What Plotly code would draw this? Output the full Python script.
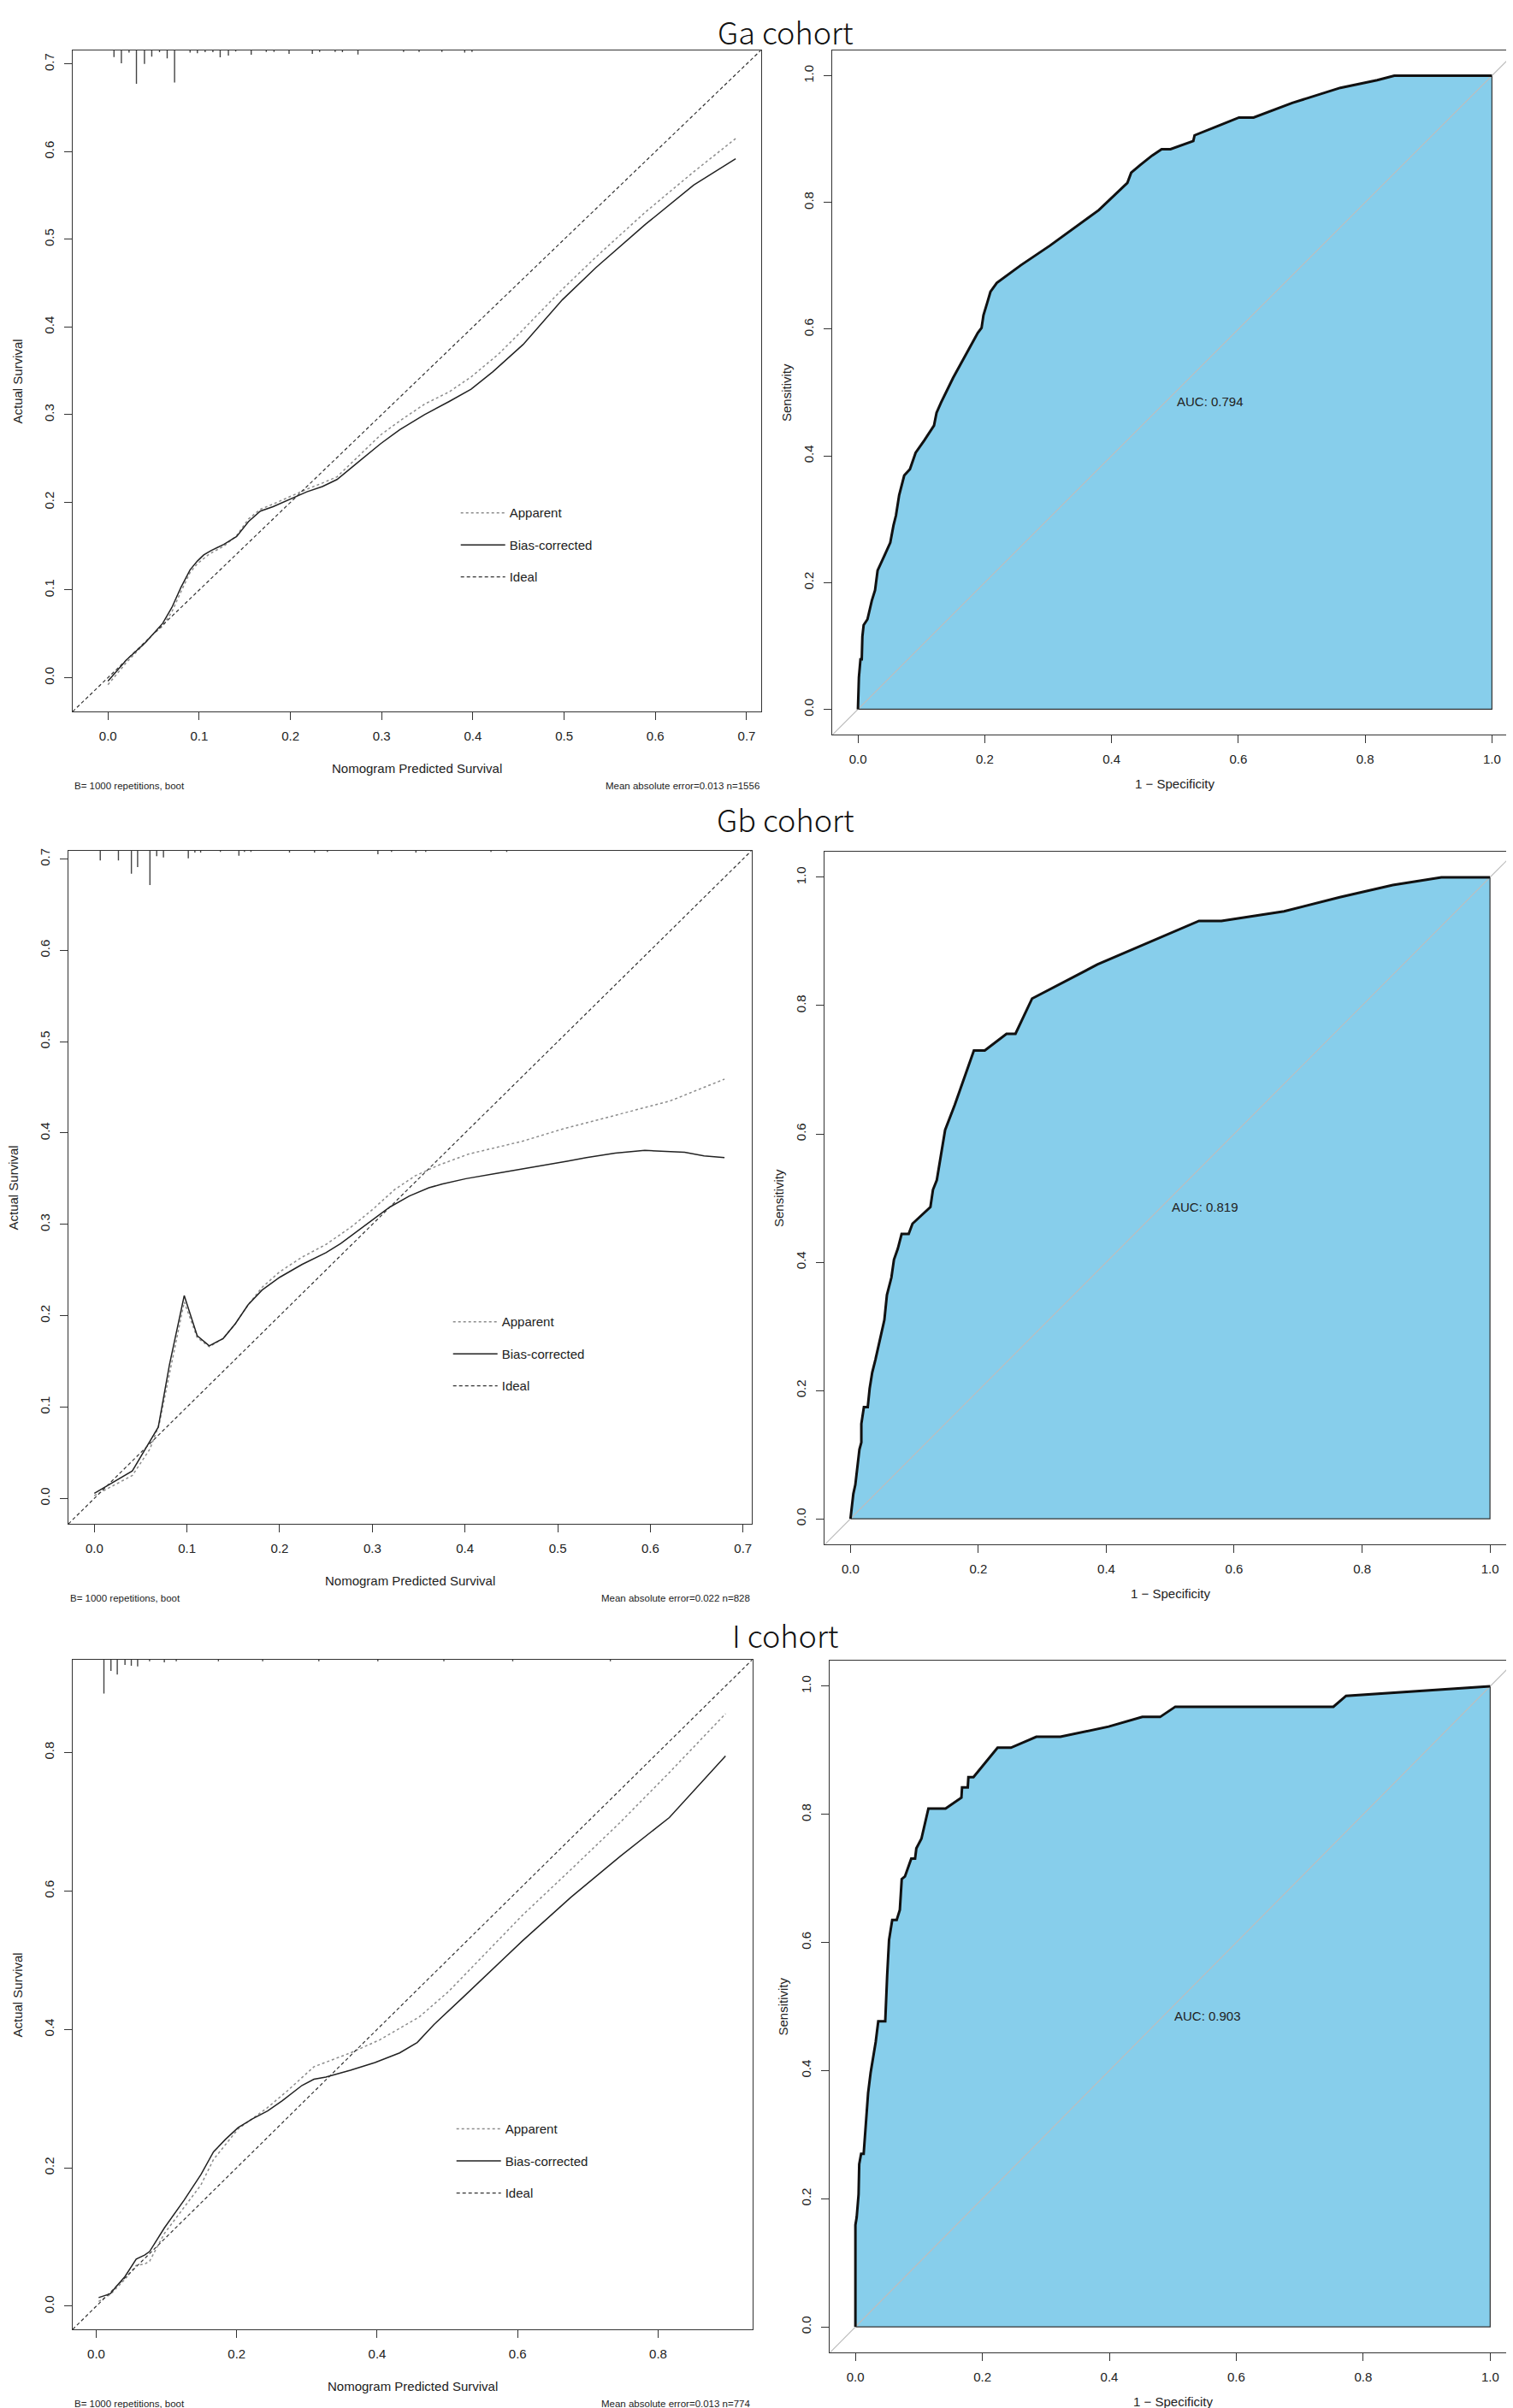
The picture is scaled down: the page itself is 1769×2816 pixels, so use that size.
import plotly.graph_objects as go

W, H = 1769, 2816
FONT = "Liberation Sans, Arial, sans-serif"
TITLE_FONT = "Noto Sans CJK SC, Noto Sans, sans-serif"

# ---------------- data ----------------
cohorts = ["Ga cohort", "Gb cohort", "I cohort"]
n_obs = [1556, 828, 774]
mae = [0.013, 0.022, 0.013]
auc_values = [0.794, 0.819, 0.903]
boot_B = 1000

# calibration ranges (xlim = ylim)
cal_lims = [[-0.0387, 0.7155], [-0.028, 0.709], [-0.0335, 0.934]]
cal_dticks = [0.1, 0.1, 0.2]
roc_lims = [-0.04, 1.04]

# Ga calibration
ga_bc_x = [0.0, 0.020, 0.041, 0.050, 0.060, 0.070, 0.080, 0.090, 0.098, 0.105, 0.113, 0.127, 0.141, 0.154,
           0.167, 0.181, 0.200, 0.218, 0.235, 0.251, 0.272, 0.299, 0.320, 0.347, 0.374, 0.398, 0.422, 0.455,
           0.498, 0.535, 0.589, 0.642, 0.688]
ga_bc_y = [-0.004, 0.020, 0.040, 0.050, 0.062, 0.080, 0.103, 0.123, 0.133, 0.140, 0.145, 0.152, 0.161, 0.178,
           0.190, 0.195, 0.204, 0.212, 0.218, 0.226, 0.244, 0.267, 0.283, 0.300, 0.315, 0.329, 0.349, 0.380,
           0.431, 0.468, 0.517, 0.562, 0.592]
ga_app_x = [0.0, 0.020, 0.041, 0.050, 0.060, 0.070, 0.080, 0.090, 0.098, 0.111, 0.127, 0.141, 0.154, 0.167,
            0.181, 0.200, 0.218, 0.235, 0.251, 0.272, 0.299, 0.320, 0.347, 0.374, 0.398, 0.428, 0.455, 0.498,
            0.535, 0.589, 0.642, 0.688]
ga_app_y = [-0.008, 0.017, 0.040, 0.050, 0.059, 0.075, 0.098, 0.120, 0.130, 0.141, 0.150, 0.162, 0.181, 0.192,
            0.198, 0.207, 0.215, 0.222, 0.229, 0.250, 0.277, 0.293, 0.312, 0.326, 0.343, 0.369, 0.397, 0.443,
            0.480, 0.531, 0.577, 0.615]
ga_rug_x = [0.0066, 0.0147, 0.0231, 0.0312, 0.040, 0.048, 0.0565, 0.0649, 0.073, 0.090, 0.098, 0.1065, 0.115,
            0.123, 0.132, 0.140, 0.157, 0.1735, 0.182, 0.1985, 0.224, 0.232, 0.249, 0.257, 0.274, 0.324, 0.341,
            0.366, 0.391, 0.399]
ga_rug_h = [0.0075, 0.0146, 0.0026, 0.0382, 0.0155, 0.0071, 0.0019, 0.009, 0.0366, 0.0026, 0.0032, 0.0019,
            0.0019, 0.0078, 0.0058, 0.0013, 0.0049, 0.0017, 0.0017, 0.0039, 0.0039, 0.0017, 0.0017, 0.0019,
            0.0046, 0.0017, 0.0017, 0.0017, 0.0026, 0.0017]

# Gb calibration
gb_bc_x = [0.0, 0.041, 0.069, 0.081, 0.097, 0.111, 0.124, 0.139, 0.152, 0.166, 0.181, 0.200, 0.224, 0.250,
           0.266, 0.300, 0.319, 0.340, 0.361, 0.375, 0.401, 0.435, 0.459, 0.483, 0.510, 0.531, 0.562, 0.594,
           0.610, 0.637, 0.658, 0.680]
gb_bc_y = [0.0055, 0.030, 0.078, 0.146, 0.222, 0.178, 0.167, 0.175, 0.191, 0.212, 0.228, 0.242, 0.256, 0.269,
           0.279, 0.305, 0.319, 0.331, 0.340, 0.344, 0.350, 0.356, 0.360, 0.364, 0.369, 0.373, 0.378, 0.381,
           0.380, 0.379, 0.375, 0.373]
gb_app_x = [0.0, 0.041, 0.060, 0.070, 0.081, 0.097, 0.111, 0.124, 0.139, 0.152, 0.166, 0.181, 0.200, 0.224,
            0.250, 0.277, 0.300, 0.324, 0.346, 0.372, 0.404, 0.462, 0.504, 0.568, 0.621, 0.680]
gb_app_y = [0.003, 0.025, 0.054, 0.081, 0.136, 0.215, 0.176, 0.166, 0.175, 0.191, 0.212, 0.231, 0.248, 0.264,
            0.278, 0.297, 0.316, 0.338, 0.353, 0.365, 0.377, 0.391, 0.404, 0.421, 0.435, 0.459]
gb_rug_x = [0.0064, 0.026, 0.040, 0.0467, 0.060, 0.0673, 0.0746, 0.1014, 0.1085, 0.1147, 0.136, 0.156, 0.162,
            0.169, 0.2106, 0.2376, 0.2515, 0.306, 0.3207, 0.347, 0.3576, 0.428, 0.445]
gb_rug_h = [0.0105, 0.0105, 0.025, 0.0178, 0.0374, 0.006, 0.0073, 0.0083, 0.0019, 0.0019, 0.0012, 0.0054,
            0.0012, 0.0012, 0.0019, 0.0019, 0.0012, 0.0038, 0.0012, 0.0019, 0.0012, 0.0012, 0.0012]

# I calibration
i_bc_x = [0.0035, 0.020, 0.029, 0.041, 0.057, 0.069, 0.076, 0.097, 0.125, 0.149, 0.167, 0.184, 0.202, 0.223,
          0.244, 0.265, 0.293, 0.310, 0.327, 0.362, 0.397, 0.432, 0.457, 0.481, 0.523, 0.572, 0.607, 0.676,
          0.746, 0.816, 0.896]
i_bc_y = [0.0125, 0.018, 0.029, 0.043, 0.068, 0.074, 0.079, 0.113, 0.153, 0.190, 0.223, 0.241, 0.258, 0.271,
          0.282, 0.297, 0.319, 0.328, 0.331, 0.341, 0.352, 0.366, 0.381, 0.407, 0.447, 0.495, 0.528, 0.591,
          0.650, 0.706, 0.795]
i_app_x = [0.0035, 0.020, 0.041, 0.057, 0.069, 0.076, 0.097, 0.125, 0.149, 0.167, 0.184, 0.202, 0.244, 0.272,
           0.310, 0.334, 0.362, 0.404, 0.460, 0.502, 0.558, 0.607, 0.676, 0.746, 0.816, 0.896]
i_app_y = [0.007, 0.017, 0.039, 0.059, 0.061, 0.065, 0.105, 0.142, 0.175, 0.212, 0.234, 0.256, 0.287, 0.311,
           0.346, 0.355, 0.366, 0.385, 0.418, 0.455, 0.514, 0.565, 0.631, 0.699, 0.771, 0.856]
i_rug_x = [0.011, 0.021, 0.030, 0.041, 0.050, 0.059, 0.076, 0.097, 0.114, 0.174, 0.237, 0.317, 0.401, 0.495,
           0.593, 0.732]
i_rug_h = [0.049, 0.016, 0.0213, 0.0074, 0.0088, 0.0096, 0.0022, 0.0037, 0.0022, 0.0022, 0.0022, 0.0022,
           0.0022, 0.0022, 0.0022, 0.0022]

# ROC curves (x = 1 - specificity, y = sensitivity)
ga_roc_x = [0.0, 0.0015, 0.004, 0.006, 0.007, 0.009, 0.015, 0.022, 0.027, 0.031, 0.042, 0.051, 0.056, 0.060,
            0.065, 0.073, 0.082, 0.091, 0.105, 0.120, 0.124, 0.131, 0.150, 0.170, 0.189, 0.195, 0.198, 0.204,
            0.209, 0.219, 0.235, 0.257, 0.303, 0.380, 0.425, 0.431, 0.445, 0.464, 0.479, 0.493, 0.529, 0.531,
            0.571, 0.601, 0.624, 0.685, 0.761, 0.819, 0.846, 1.0]
ga_roc_y = [0.0, 0.050, 0.079, 0.079, 0.115, 0.133, 0.142, 0.172, 0.188, 0.219, 0.243, 0.263, 0.290, 0.306,
            0.338, 0.369, 0.379, 0.405, 0.425, 0.448, 0.468, 0.484, 0.523, 0.559, 0.594, 0.602, 0.622, 0.642,
            0.659, 0.673, 0.685, 0.701, 0.732, 0.788, 0.831, 0.847, 0.859, 0.874, 0.884, 0.884, 0.897, 0.906,
            0.922, 0.934, 0.934, 0.957, 0.981, 0.993, 1.0, 1.0]
gb_roc_x = [0.0, 0.0045, 0.0076, 0.011, 0.014, 0.017, 0.017, 0.021, 0.027, 0.030, 0.034, 0.039, 0.053, 0.057,
            0.064, 0.068, 0.074, 0.080, 0.091, 0.097, 0.125, 0.129, 0.135, 0.148, 0.163, 0.193, 0.210, 0.244,
            0.258, 0.284, 0.386, 0.545, 0.580, 0.678, 0.765, 0.848, 0.924, 1.0]
gb_roc_y = [0.0, 0.039, 0.053, 0.080, 0.108, 0.119, 0.148, 0.174, 0.174, 0.203, 0.228, 0.248, 0.310, 0.349,
            0.376, 0.404, 0.421, 0.444, 0.444, 0.460, 0.486, 0.513, 0.528, 0.606, 0.645, 0.730, 0.730, 0.756,
            0.756, 0.811, 0.864, 0.932, 0.932, 0.947, 0.969, 0.988, 1.0, 1.0]
i_roc_x = [0.0, 0.0, 0.002, 0.005, 0.006, 0.009, 0.013, 0.017, 0.020, 0.024, 0.032, 0.036, 0.047, 0.050, 0.053,
           0.058, 0.065, 0.070, 0.073, 0.078, 0.088, 0.094, 0.096, 0.104, 0.115, 0.142, 0.167, 0.168, 0.177,
           0.178, 0.186, 0.224, 0.245, 0.285, 0.323, 0.399, 0.452, 0.480, 0.504, 0.753, 0.773, 1.0]
i_roc_y = [0.0, 0.159, 0.171, 0.207, 0.254, 0.270, 0.270, 0.326, 0.365, 0.397, 0.445, 0.477, 0.477, 0.548, 0.604,
           0.635, 0.635, 0.651, 0.699, 0.703, 0.731, 0.731, 0.747, 0.762, 0.809, 0.809, 0.826, 0.842, 0.842,
           0.858, 0.858, 0.904, 0.904, 0.921, 0.921, 0.937, 0.952, 0.952, 0.968, 0.968, 0.985, 1.0]

cal_data = [
    (ga_app_x, ga_app_y, ga_bc_x, ga_bc_y, ga_rug_x, ga_rug_h),
    (gb_app_x, gb_app_y, gb_bc_x, gb_bc_y, gb_rug_x, gb_rug_h),
    (i_app_x, i_app_y, i_bc_x, i_bc_y, i_rug_x, i_rug_h),
]
roc_data = [(ga_roc_x, ga_roc_y), (gb_roc_x, gb_roc_y), (i_roc_x, i_roc_y)]

# ---------------- layout geometry (pixels) ----------------
cal_boxes = [(77, 882, 48, 822), (72, 871, 985, 1773), (77, 872, 1932, 2716)]
roc_boxes = [(966, 1767, 48, 849), (957, 1765, 986, 1797), (963, 1765, 1933, 2743)]
title_y = [25, 947, 1902]
legend_pos = [(536, 598), (527, 1545), (531, 2490)]


def px_x(p):
    return p / W


def px_y(p):
    return 1 - p / H


BOX = "#333333"


def axis(domain, rng, dtick, anchor, is_y=False):
    d = dict(domain=domain, range=rng, autorange=False, showline=True, mirror=True,
             linecolor=BOX, linewidth=1.4, ticks="outside", ticklen=9, tickwidth=1.3,
             tickcolor=BOX, tick0=0, dtick=dtick, tickformat=".1f", showgrid=False,
             zeroline=False, tickfont=dict(size=15, color="#222", family=FONT),
             anchor=anchor, fixedrange=True, ticklabelstandoff=6)
    if is_y:
        d["tickangle"] = -90
        d["ticklabelstandoff"] = 6
    return d


fig = go.Figure()
layout = dict(width=W, height=H, margin=dict(l=0, r=0, t=0, b=0),
              paper_bgcolor="white", plot_bgcolor="white", showlegend=True,
              font=dict(family=FONT, size=15, color="#222"))
annotations = []

for i in range(3):
    # ----- calibration subplot -----
    ax_n = 2 * i + 1
    xa = "x" if ax_n == 1 else f"x{ax_n}"
    ya = "y" if ax_n == 1 else f"y{ax_n}"
    l, r, t, b = cal_boxes[i]
    lo, hi = cal_lims[i]
    layout["xaxis" if ax_n == 1 else f"xaxis{ax_n}"] = axis([px_x(l), px_x(r)], [lo, hi], cal_dticks[i], ya)
    layout["yaxis" if ax_n == 1 else f"yaxis{ax_n}"] = axis([px_y(b), px_y(t)], [lo, hi], cal_dticks[i], xa, True)
    app_x, app_y, bc_x, bc_y, rug_x, rug_h = cal_data[i]
    lg = "legend" if i == 0 else f"legend{i + 1}"

    # rug (frequency ticks hanging from top)
    rx, ry = [], []
    for xv, hv in zip(rug_x, rug_h):
        rx += [xv, xv, None]
        ry += [hi, hi - hv, None]
    fig.add_trace(go.Scatter(x=rx, y=ry, mode="lines", line=dict(color="#444", width=1.4),
                             xaxis=xa, yaxis=ya, showlegend=False, hoverinfo="skip"))
    fig.add_trace(go.Scatter(x=app_x, y=app_y, mode="lines", name="Apparent",
                             line=dict(color="#8c8c8c", width=1.5, dash="dot"),
                             xaxis=xa, yaxis=ya, legend=lg, legendgroup=f"a{i}"))
    fig.add_trace(go.Scatter(x=bc_x, y=bc_y, mode="lines", name="Bias-corrected",
                             line=dict(color="#222", width=1.5),
                             xaxis=xa, yaxis=ya, legend=lg, legendgroup=f"b{i}"))
    fig.add_trace(go.Scatter(x=[lo, hi], y=[lo, hi], mode="lines", name="Ideal",
                             line=dict(color="#333", width=1.2, dash="4px,3px"),
                             xaxis=xa, yaxis=ya, legend=lg, legendgroup=f"c{i}"))
    lx, ly = legend_pos[i]
    layout[lg] = dict(x=px_x(lx - 10), y=px_y(ly - 25), xanchor="left", yanchor="top",
                      bgcolor="rgba(0,0,0,0)", font=dict(size=15, family=FONT, color="#222"),
                      tracegroupgap=15, itemwidth=52, traceorder="grouped")

    cx = (l + r) / 2
    annotations += [
        dict(text="Actual Survival", x=px_x(l - 64), y=px_y((t + b) / 2), xref="paper", yref="paper",
             textangle=-90, showarrow=False, font=dict(size=15), xanchor="center", yanchor="middle"),
        dict(text="Nomogram Predicted Survival", x=px_x(cx), y=px_y(b + 66), xref="paper", yref="paper",
             showarrow=False, font=dict(size=15), xanchor="center", yanchor="middle"),
        dict(text=f"B= {boot_B} repetitions, boot", x=px_x(l), y=px_y(b + 87), xref="paper", yref="paper",
             showarrow=False, font=dict(size=11.5), xanchor="left", yanchor="middle"),
        dict(text=f"Mean absolute error={mae[i]:.3f} n={n_obs[i]}", x=px_x(r), y=px_y(b + 87),
             xref="paper", yref="paper", showarrow=False, font=dict(size=11.5), xanchor="right",
             yanchor="middle"),
        dict(text=cohorts[i], x=px_x(911), y=px_y(title_y[i]), xref="paper", yref="paper", showarrow=False,
             font=dict(size=36, family=TITLE_FONT, color="#111", weight=300), xanchor="center",
             yanchor="middle"),
    ]

    # ----- ROC subplot -----
    ax_n = 2 * i + 2
    xa, ya = f"x{ax_n}", f"y{ax_n}"
    l, r, t, b = roc_boxes[i]
    layout[f"xaxis{ax_n}"] = axis([px_x(l), px_x(r)], roc_lims, 0.2, ya)
    layout[f"yaxis{ax_n}"] = axis([px_y(b), px_y(t)], roc_lims, 0.2, xa, True)
    rxs, rys = roc_data[i]
    fig.add_trace(go.Scatter(x=list(rxs) + [rxs[-1], rxs[0]], y=list(rys) + [rys[0], rys[0]],
                             mode="lines", fill="toself", fillcolor="#87CEEB",
                             line=dict(color="#333", width=1.2), xaxis=xa, yaxis=ya,
                             showlegend=False, hoverinfo="skip"))
    fig.add_trace(go.Scatter(x=roc_lims, y=roc_lims, mode="lines", line=dict(color="#bdbdbd", width=1.2),
                             xaxis=xa, yaxis=ya, showlegend=False, hoverinfo="skip"))
    fig.add_trace(go.Scatter(x=rxs, y=rys, mode="lines", line=dict(color="#111", width=3),
                             xaxis=xa, yaxis=ya, showlegend=False, hoverinfo="skip"))
    annotations += [
        dict(text=f"AUC: {auc_values[i]:.3f}", x=0.5, y=0.5, xref=xa, yref=ya, showarrow=False,
             font=dict(size=15), xanchor="left", yanchor="top"),
        dict(text="Sensitivity", x=px_x(l - 54.5), y=px_y((t + b) / 2), xref="paper", yref="paper",
             textangle=-90, showarrow=False, font=dict(size=15), xanchor="center", yanchor="middle"),
        dict(text="1 \u2212 Specificity", x=px_x((l + r) / 2), y=px_y(b + 57), xref="paper", yref="paper",
             showarrow=False, font=dict(size=15), xanchor="center", yanchor="middle"),
    ]

layout["annotations"] = annotations
fig.update_layout(**layout)
fig.write_html("out.html")
